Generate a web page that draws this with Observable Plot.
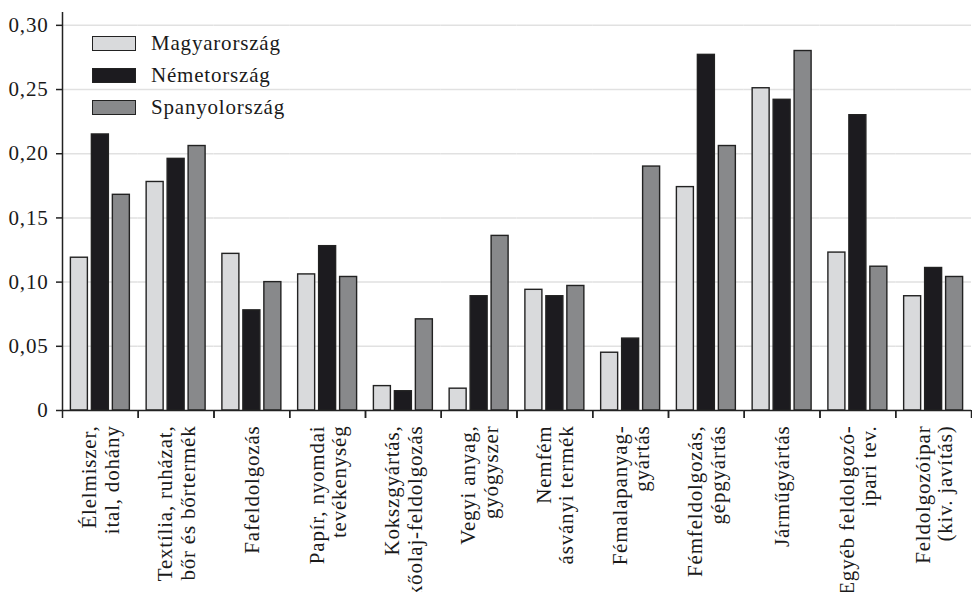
<!DOCTYPE html>
<html>
<head>
<meta charset="utf-8">
<script src="https://cdn.jsdelivr.net/npm/d3@7"></script>
<script src="https://cdn.jsdelivr.net/npm/@observablehq/plot@0.6"></script>
<style>
  html, body { margin: 0; padding: 0; background: #fff; }
  #wrap { position: relative; width: 972px; height: 592px; overflow: hidden; font-family: "Liberation Serif", serif; }
  #legend { position: absolute; left: 92px; top: 27px; font-size: 21px; letter-spacing: 0.8px; color: #1a1a1a; }
  .row { display: flex; align-items: center; height: 32px; }
  .sw { width: 42px; height: 13px; border: 1.5px solid #222; margin-right: 15px; }
</style>
</head>
<body>
<div id="wrap"><div id="legend"></div></div>
<script>
const categories = [
  "Élelmiszer,\nital, dohány",
  "Textília, ruházat,\nbőr és bőrtermék",
  "Fafeldolgozás",
  "Papír, nyomdai\ntevékenység",
  "Kokszgyártás,\nkőolaj-feldolgozás",
  "Vegyi anyag,\ngyógyszer",
  "Nemfém\násványi termék",
  "Fémalapanyag-\ngyártás",
  "Fémfeldolgozás,\ngépgyártás",
  "Járműgyártás",
  "Egyéb feldolgozó-\nipari tev.",
  "Feldolgozóipar\n(kiv. javítás)"
];
const series = ["Magyarország", "Németország", "Spanyolország"];
const magyar  = [0.119, 0.178, 0.122, 0.106, 0.019, 0.017, 0.094, 0.045, 0.174, 0.251, 0.123, 0.089];
const nemet   = [0.215, 0.196, 0.078, 0.128, 0.015, 0.089, 0.089, 0.056, 0.277, 0.242, 0.230, 0.111];
const spanyol = [0.168, 0.206, 0.100, 0.104, 0.071, 0.136, 0.097, 0.190, 0.206, 0.280, 0.112, 0.104];
const yTicks = [0, 0.05, 0.10, 0.15, 0.20, 0.25, 0.30];
const colors = ["#d9dadc", "#1c1b1f", "#88898b"];

const values = [magyar, nemet, spanyol];
const data = categories.flatMap((c, i) => series.map((s, j) => ({cat: c, series: s, value: values[j][i]})));

const W = 972, H = 592, ML = 62, MR = 1, MT = 12, MB = 182;
const fw = (W - ML - MR) / categories.length;
const fmt = d => d === 0 ? "0" : d.toFixed(2).replace(".", ",");

const chart = Plot.plot({
  width: W, height: H,
  marginLeft: ML, marginRight: MR, marginTop: MT, marginBottom: MB,
  style: {fontFamily: "Liberation Serif, serif", fontSize: "21px", background: "#fff", color: "#1a1a1a", letterSpacing: "0.8px"},
  fx: {domain: categories, padding: 0, round: false, label: null},
  x: {domain: series, paddingInner: 0.19, paddingOuter: 0.4, round: false, axis: null},
  y: {domain: [0, 0.31], label: null},
  color: {domain: series, range: colors},
  marks: [
    Plot.gridY({ticks: yTicks.slice(1), stroke: "#e1e1e1", strokeOpacity: 1, strokeWidth: 1.5}),
    Plot.barY(data, {fx: "cat", x: "series", y: "value", fill: "series", stroke: "#222", strokeWidth: 1.4}),
    Plot.ruleY([0], {stroke: "#222", strokeWidth: 1.5}),
    Plot.gridFx({ticks: [categories[0]], dx: -fw / 2, stroke: "#222", strokeOpacity: 1, strokeWidth: 1.5}),
    Plot.axisY({ticks: yTicks, tickFormat: fmt, tickSize: 6, tickPadding: 8, label: null, stroke: "#222", strokeWidth: 1.5, fontSize: 21}),
    Plot.axisFx({anchor: "bottom", tickSize: 8, tickFormat: () => "", dx: -fw / 2, label: null, stroke: "#222", strokeWidth: 1.5}),
    Plot.axisFx({anchor: "bottom", tickSize: 8, tickFormat: () => "", dx: fw / 2, label: null, stroke: "#222", strokeWidth: 1.5}),
    Plot.axisFx({anchor: "bottom", tickSize: 0, tickPadding: 15, tickRotate: -90, label: null, fontSize: 21, lineHeight: 1.08})
  ]
});
const wrap = document.getElementById("wrap");
wrap.insertBefore(chart, wrap.firstChild);

const legend = document.getElementById("legend");
series.forEach((s, i) => {
  const row = document.createElement("div");
  row.className = "row";
  const sw = document.createElement("div");
  sw.className = "sw";
  sw.style.background = colors[i];
  const t = document.createElement("span");
  t.textContent = s;
  row.appendChild(sw);
  row.appendChild(t);
  legend.appendChild(row);
});
</script>
</body>
</html>
